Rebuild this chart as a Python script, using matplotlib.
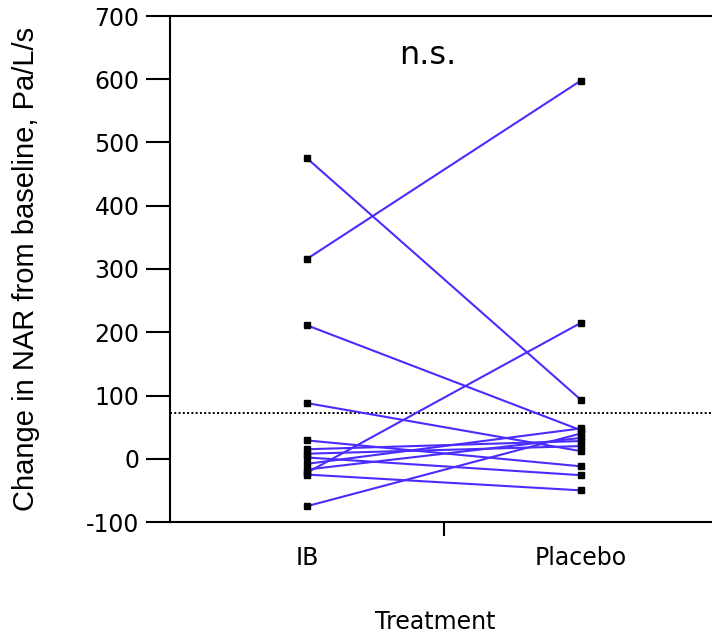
import numpy as np
import matplotlib
matplotlib.use("Agg")
import matplotlib.pyplot as plt

plt.rcParams["axes.unicode_minus"] = False

# values (change in NAR, Pa/L/s), one entry per subject
treatments = ["IB", "Placebo"]
ib_values = [475, 316, 211, 88, 29, 15, 8, 2, -8, -17, -25, -22, -75]
placebo_values = [93, 598, 45, 12, -12, 28, 20, -26, 48, 33, -50, 215, 40]
ref_level = 72
y_ticks = [-100, 0, 100, 200, 300, 400, 500, 600, 700]

fig = plt.figure(figsize=(7.12, 6.36), dpi=100)
ax = fig.add_axes([170 / 712, 114 / 636, 548 / 712, 506 / 636])

x_pos = np.arange(1, len(treatments) + 1)
for a, b in zip(ib_values, placebo_values):
    ax.plot(x_pos, [a, b], color="#4a2cff", lw=1.5, marker="s", ms=4.5,
            mfc="black", mec="black", zorder=3)

ax.axhline(ref_level, color="black", ls=(0, (1, 1.2)), lw=1.4, zorder=2)

ax.set_xlim(0.5, 2.5)
ax.set_ylim(-100, 700)
ax.set_yticks(y_ticks)
ax.set_xticks(x_pos)
ax.set_xticklabels(treatments, fontsize=17)
ax.set_xticks([1.5], minor=True)
ax.tick_params(axis="x", which="major", length=0, pad=17)
ax.tick_params(axis="x", which="minor", length=10, width=1.5, direction="out")
ax.tick_params(axis="y", length=17, width=1.5, direction="out", labelsize=17, pad=5)
for s in ax.spines.values():
    s.set_linewidth(1.5)

ax.set_ylabel("Change in NAR from baseline, Pa/L/s", fontsize=21,
              family="Liberation Sans")
ax.yaxis.set_label_coords(-130 / 548, 0.5)
ax.set_xlabel("Treatment", fontsize=17)
ax.xaxis.set_label_coords(0.4835, -88 / 506)
ax.text(1.44, 638, "n.s.", fontsize=23, ha="center", va="center")

fig.savefig("out.png", dpi=100)
